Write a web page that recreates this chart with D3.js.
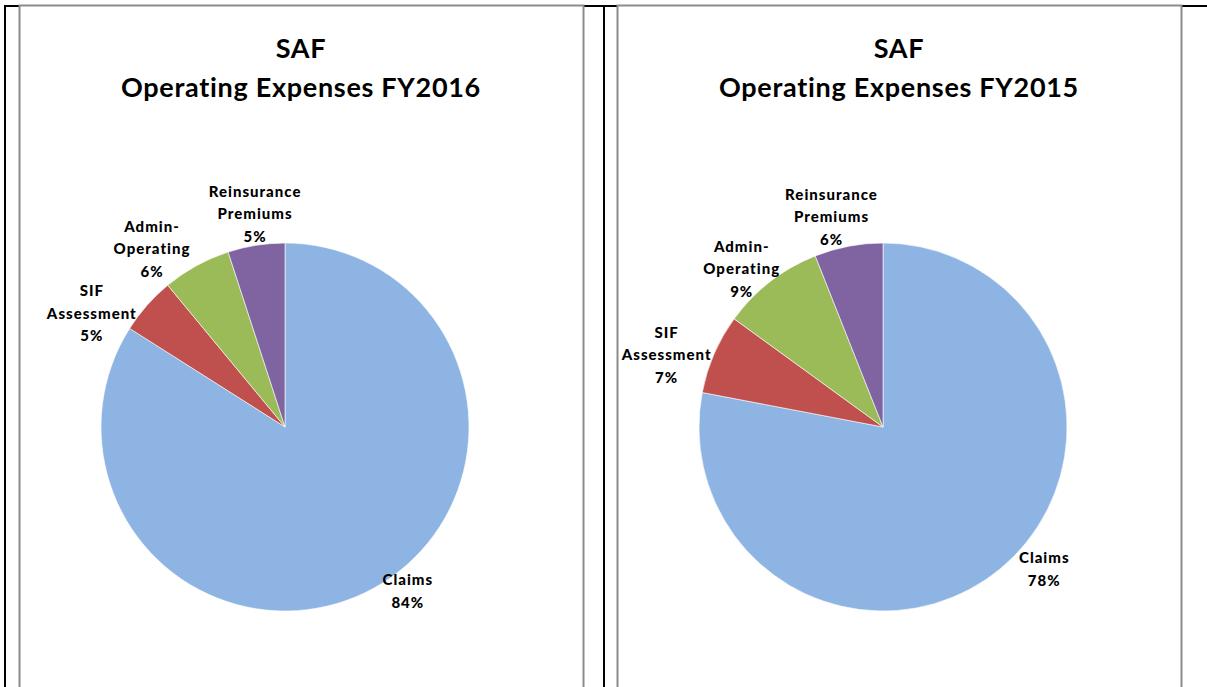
<!DOCTYPE html>
<html>
<head>
<meta charset="utf-8">
<script src="https://cdn.jsdelivr.net/npm/d3@7"></script>
<style>
  html, body { margin: 0; padding: 0; background: #fff; }
  svg { display: block; }
  text { font-family: Lato, "Open Sans", sans-serif; font-weight: bold; fill: #000; }
</style>
</head>
<body>
<svg id="chart" width="1207" height="687"></svg>
<script>
// ---- data ----
const categories = ["Claims", "SIF Assessment", "Admin-Operating", "Reinsurance Premiums"];
const labelLines = [["Claims"], ["SIF", "Assessment"], ["Admin-", "Operating"], ["Reinsurance", "Premiums"]];
const chartTitles = ["Operating Expenses FY2016", "Operating Expenses FY2015"];
const fundName = "SAF";
const valuesFY2016 = [84, 5, 6, 5];
const valuesFY2015 = [78, 7, 9, 6];
const colors = ["#8db4e2", "#c0504d", "#9bbb59", "#8064a2"];

// ---- layout (label placement: [angle offset deg from slice mid, radius px]) ----
const labelPlacement = [
  [[-8, 205], [-11, 224], [-8, 222], [1, 215]],
  [[-9, 215], [-5, 228], [-4, 212], [-3, 216]]
];

const svg = d3.select("#chart");

// table borders
svg.append("line").attr("x1", 4).attr("x2", 1207).attr("y1", 6).attr("y2", 6)
  .attr("stroke", "#000").attr("stroke-width", 2);
svg.append("line").attr("x1", 5).attr("x2", 5).attr("y1", 5).attr("y2", 687)
  .attr("stroke", "#000").attr("stroke-width", 2);
svg.append("line").attr("x1", 604).attr("x2", 604).attr("y1", 5).attr("y2", 687)
  .attr("stroke", "#000").attr("stroke-width", 2);

const panels = [
  { x: 19, values: valuesFY2016, title: chartTitles[0] },
  { x: 617, values: valuesFY2015, title: chartTitles[1] }
];
const panelW = 564;
const radius = 184;

const pie = d3.pie().sort(null).value(d => d);
const arc = d3.arc().innerRadius(0).outerRadius(radius);

panels.forEach((p, pi) => {
  const g = svg.append("g").attr("transform", `translate(${p.x},0)`);
  g.append("rect").attr("x", 0.5).attr("y", 5.5).attr("width", panelW).attr("height", 720)
    .attr("fill", "#fff").attr("stroke", "#8c8c8c").attr("stroke-width", 2);

  const cx = panelW / 2;
  g.append("text").attr("x", cx).attr("y", 58).attr("text-anchor", "middle")
    .style("font-size", "27px").style("letter-spacing", "0.7px").text(fundName);
  g.append("text").attr("x", cx).attr("y", 97).attr("text-anchor", "middle")
    .style("font-size", "27px").style("letter-spacing", "0.7px").text(p.title);

  const pc = g.append("g").attr("transform", `translate(${cx - 16},427)`);
  const arcs = pie(p.values);
  pc.selectAll("path").data(arcs).enter().append("path")
    .attr("d", arc)
    .attr("fill", (d, i) => colors[i])
    .attr("stroke", "#fff").attr("stroke-width", 0.6);

  const total = d3.sum(p.values);
  arcs.forEach((d, i) => {
    const mid = (d.startAngle + d.endAngle) / 2 + labelPlacement[pi][i][0] * Math.PI / 180;
    const r = labelPlacement[pi][i][1];
    const lx = r * Math.sin(mid), ly = -r * Math.cos(mid);
    const lines = labelLines[i].concat([Math.round(d.value / total * 100) + "%"]);
    const n = lines.length;
    const t = pc.append("text").attr("text-anchor", "middle")
      .attr("transform", `translate(${lx},${ly})`)
      .style("font-size", "15px").style("font-weight", "900").style("letter-spacing", "1px");
    lines.forEach((ln, k) => {
      t.append("tspan").attr("x", 0)
        .attr("y", (k - (n - 1) / 2) * 22.5)
        .attr("dy", "0.35em")
        .text(ln);
    });
  });
});
</script>
</body>
</html>
